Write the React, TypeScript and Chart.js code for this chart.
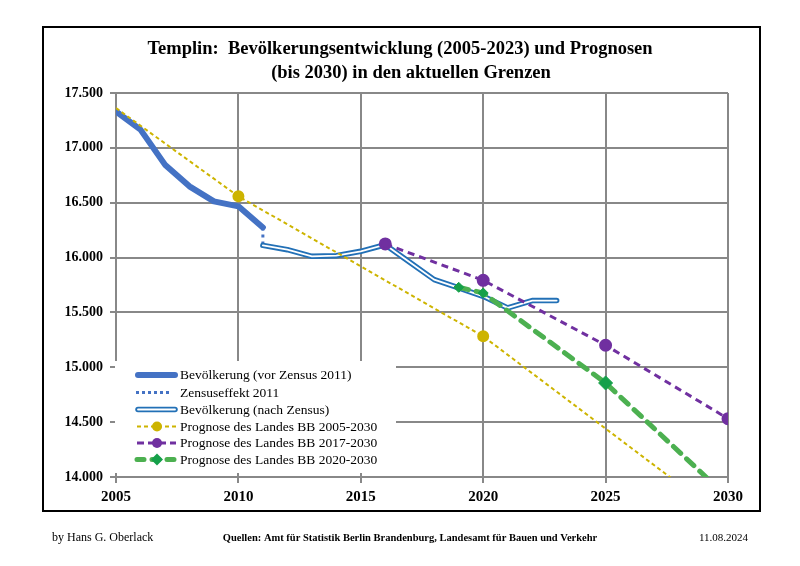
import React, { useEffect, useRef } from "react";
import { Chart, registerables } from "chart.js";
Chart.register(...registerables);

const preYears = [2005, 2006, 2007, 2008, 2009, 2010, 2011];
const preValues = [17332, 17166, 16847, 16649, 16512, 16467, 16275];
const censusYears = [2011, 2011];
const censusValues = [16275, 16111];
const postYears = [2011, 2012, 2013, 2014, 2015, 2016, 2017, 2018, 2019, 2020, 2021, 2022, 2023];
const postValues = [16111, 16072, 16011, 16017, 16057, 16117, 15958, 15799, 15723, 15647, 15541, 15608, 15608];
const prog05Years = [2005, 2010, 2020, 2030];
const prog05Values = [17363, 16558, 15282, 13600];
const prog17Years = [2016, 2020, 2025, 2030];
const prog17Values = [16124, 15793, 15201, 14532];
const prog20Years = [2019, 2020, 2025, 2030];
const prog20Values = [15729, 15677, 14857, 13812];

const xMin = 2005;
const xMax = 2030;
const xStep = 5;
const yMin = 14000;
const yMax = 17500;
const yStep = 500;

const titleLines = [
  "Templin:  Bevölkerungsentwicklung (2005-2023) und Prognosen",
  "(bis 2030) in den aktuellen Grenzen",
];
const legendLabels = [
  "Bevölkerung (vor Zensus 2011)",
  "Zensuseffekt 2011",
  "Bevölkerung (nach Zensus)",
  "Prognose des Landes BB 2005-2030",
  "Prognose des Landes BB 2017-2030",
  "Prognose des Landes BB 2020-2030",
];
const footerLeft = "by Hans G. Oberlack";
const footerCenter = "Quellen: Amt für Statistik Berlin Brandenburg, Landesamt für Bauen und Verkehr";
const footerRight = "11.08.2024";

const SERIF = "'Liberation Serif', 'DejaVu Serif', serif";
const GRID = "#888888";
const BLUE_PRE = "#4472C4";
const BLUE_POST = "#2270B6";
const YELLOW = "#CDB400";
const PURPLE = "#7030A0";
const GREEN = "#4CB050";
const GREEN_PT = "#15A04A";

const pts = (xs: number[], ys: number[]) => xs.map((x, i) => ({ x, y: ys[i] }));
const fmt = (v: number) => String(v).replace(/\B(?=(\d{3})+(?!\d))/g, ".");

const decorPlugin = {
  id: "decor",
  afterDatasetsDraw(chart: any) {
    const ctx = chart.ctx as CanvasRenderingContext2D;
    ctx.save();
    // legend box
    ctx.fillStyle = "#ffffff";
    ctx.fillRect(115, 361, 281, 112);
    const sx0 = 135;
    const sx1 = 178;
    const tx = 180;
    const rows = [375, 392.5, 409.5, 426.5, 443, 459.5];
    ctx.font = `13.5px ${SERIF}`;
    ctx.fillStyle = "#000";
    ctx.textBaseline = "middle";
    ctx.textAlign = "left";
    legendLabels.forEach((t, i) => ctx.fillText(t, tx, rows[i] + 0.5));
    // row 1
    ctx.lineCap = "round";
    ctx.strokeStyle = BLUE_PRE;
    ctx.lineWidth = 6;
    ctx.beginPath();
    ctx.moveTo(sx0 + 3, rows[0]);
    ctx.lineTo(sx1 - 3, rows[0]);
    ctx.stroke();
    // row 2
    ctx.lineCap = "butt";
    ctx.lineWidth = 3;
    ctx.setLineDash([3, 3]);
    ctx.beginPath();
    ctx.moveTo(sx0 + 1, rows[1]);
    ctx.lineTo(sx1 - 6, rows[1]);
    ctx.stroke();
    ctx.setLineDash([]);
    // row 3
    ctx.lineCap = "round";
    ctx.strokeStyle = BLUE_POST;
    ctx.lineWidth = 5.5;
    ctx.beginPath();
    ctx.moveTo(sx0 + 3, rows[2]);
    ctx.lineTo(sx1 - 3, rows[2]);
    ctx.stroke();
    ctx.strokeStyle = "#fff";
    ctx.lineWidth = 1.8;
    ctx.beginPath();
    ctx.moveTo(sx0 + 3, rows[2]);
    ctx.lineTo(sx1 - 3, rows[2]);
    ctx.stroke();
    // rows 4-6
    const dashRow = (y: number, color: string, w: number, dash: number[], cap: CanvasLineCap) => {
      ctx.strokeStyle = color;
      ctx.lineWidth = w;
      ctx.lineCap = cap;
      ctx.setLineDash(dash);
      ctx.beginPath();
      ctx.moveTo(sx0 + 2, y);
      ctx.lineTo(sx1 - 2, y);
      ctx.stroke();
      ctx.setLineDash([]);
    };
    dashRow(rows[3], YELLOW, 2, [4, 3], "butt");
    ctx.fillStyle = YELLOW;
    ctx.beginPath();
    ctx.arc(157, rows[3], 5, 0, Math.PI * 2);
    ctx.fill();
    dashRow(rows[4], PURPLE, 3, [7, 4], "butt");
    ctx.fillStyle = PURPLE;
    ctx.beginPath();
    ctx.arc(157, rows[4], 5, 0, Math.PI * 2);
    ctx.fill();
    dashRow(rows[5], GREEN, 5, [7, 8], "round");
    ctx.fillStyle = GREEN_PT;
    ctx.beginPath();
    ctx.moveTo(157 - 6, rows[5]);
    ctx.lineTo(157, rows[5] - 6);
    ctx.lineTo(157 + 6, rows[5]);
    ctx.lineTo(157, rows[5] + 6);
    ctx.closePath();
    ctx.fill();
    ctx.restore();
  },
  afterDraw(chart: any) {
    const ctx = chart.ctx as CanvasRenderingContext2D;
    ctx.save();
    // outer frame
    ctx.strokeStyle = "#000";
    ctx.lineWidth = 2;
    ctx.strokeRect(43, 27, 717, 484);
    // title
    ctx.fillStyle = "#000";
    ctx.textAlign = "center";
    ctx.textBaseline = "alphabetic";
    ctx.font = `bold 18.5px ${SERIF}`;
    ctx.fillText(titleLines[0], 400, 54);
    ctx.fillText(titleLines[1], 411, 78);
    // footer
    ctx.font = `12px ${SERIF}`;
    ctx.textAlign = "left";
    ctx.fillText(footerLeft, 52, 541);
    ctx.font = `bold 10.5px ${SERIF}`;
    ctx.textAlign = "center";
    ctx.fillText(footerCenter, 410, 541);
    ctx.font = `11px ${SERIF}`;
    ctx.textAlign = "right";
    ctx.fillText(footerRight, 748, 541);
    ctx.restore();
  },
};

export default function App() {
  const ref = useRef<HTMLCanvasElement | null>(null);
  useEffect(() => {
    if (!ref.current) return;
    const chart = new Chart(ref.current, {
      type: "line",
      data: {
        datasets: [
          {
            label: legendLabels[5],
            data: pts(prog20Years, prog20Values),
            borderColor: GREEN,
            borderWidth: 5,
            borderDash: [10, 8],
            borderCapStyle: "round",
            pointStyle: "rectRot",
            pointRadius: [5, 5, 7, 0],
            pointBackgroundColor: GREEN_PT,
            pointBorderColor: GREEN_PT,
            pointBorderWidth: 1,
            order: 0,
          },
          {
            label: legendLabels[4],
            data: pts(prog17Years, prog17Values),
            borderColor: PURPLE,
            borderWidth: 3,
            borderDash: [7, 5],
            pointStyle: "circle",
            pointRadius: [5, 5, 5, 5],
            pointBackgroundColor: PURPLE,
            pointBorderColor: PURPLE,
            order: 1,
          },
          {
            label: legendLabels[3],
            data: pts(prog05Years, prog05Values),
            borderColor: YELLOW,
            borderWidth: 2,
            borderDash: [4, 3],
            pointStyle: "circle",
            pointRadius: [0, 5, 5, 0],
            pointBackgroundColor: YELLOW,
            pointBorderColor: YELLOW,
            order: 2,
          },
          {
            label: "inner",
            data: pts(postYears, postValues),
            borderColor: "#ffffff",
            borderWidth: 1.8,
            borderCapStyle: "round",
            pointRadius: 0,
            order: 3,
          },
          {
            label: legendLabels[2],
            data: pts(postYears, postValues),
            borderColor: BLUE_POST,
            borderWidth: 5.5,
            borderCapStyle: "round",
            borderJoinStyle: "round",
            pointRadius: 0,
            order: 4,
          },
          {
            label: legendLabels[1],
            data: pts(censusYears, censusValues),
            borderColor: BLUE_PRE,
            borderWidth: 3,
            borderDash: [3, 4],
            pointRadius: 0,
            order: 5,
          },
          {
            label: legendLabels[0],
            data: pts(preYears, preValues),
            borderColor: BLUE_PRE,
            borderWidth: 6,
            borderCapStyle: "round",
            borderJoinStyle: "round",
            pointRadius: 0,
            order: 6,
          },
        ],
      },
      options: {
        animation: false,
        responsive: false,
        maintainAspectRatio: false,
        layout: { padding: { left: 0, right: 72, top: 93, bottom: 0 } },
        plugins: {
          legend: { display: false },
          title: { display: false },
          tooltip: { enabled: false },
        },
        elements: { line: { tension: 0 } },
        scales: {
          x: {
            type: "linear",
            min: xMin,
            max: xMax,
            ticks: {
              stepSize: xStep,
              color: "#000",
              font: { family: SERIF, size: 15, weight: "bold" },
              padding: 5,
              maxRotation: 0,
              callback: (v: any) => String(v),
            },
            grid: { color: GRID, lineWidth: 2, tickLength: 6 },
            border: { color: GRID, width: 2 },
            afterFit: (s: any) => {
              s.height = 89;
            },
          },
          y: {
            type: "linear",
            min: yMin,
            max: yMax,
            ticks: {
              stepSize: yStep,
              color: "#000",
              font: { family: SERIF, size: 14, weight: "bold" },
              padding: 7,
              callback: (v: any) => fmt(Number(v)),
            },
            grid: { color: GRID, lineWidth: 2, tickLength: 6 },
            border: { color: GRID, width: 2 },
            afterFit: (s: any) => {
              s.width = 116;
            },
          },
        },
      } as any,
      plugins: [decorPlugin],
    });
    return () => chart.destroy();
  }, []);
  return (
    <div style={{ position: "absolute", left: 0, top: 0, width: 800, height: 566, background: "#fff" }}>
      <canvas ref={ref} width={800} height={566} style={{ display: "block" }} />
    </div>
  );
}
